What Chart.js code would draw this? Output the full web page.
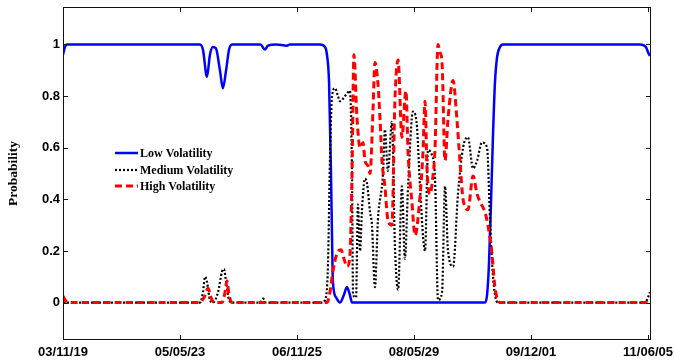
<!DOCTYPE html>
<html>
<head>
<meta charset="utf-8">
<script src="https://cdn.jsdelivr.net/npm/chart.js@4.4.0/dist/chart.umd.min.js"></script>
<style>
  html, body { margin: 0; padding: 0; background: #fff; }
  #wrap { width: 675px; height: 362px; }
</style>
</head>
<body>
<div id="wrap"><canvas id="chart" width="675" height="362"></canvas></div>
<script>
'use strict';

// x values are days counted from 2003/11/19
var xTickDays = [0, 551, 1102, 1653, 2204, 2755];
var xTickLabels = ['03/11/19', '05/05/23', '06/11/25', '08/05/29', '09/12/01', '11/06/05'];
var yTickValues = [0, 0.2, 0.4, 0.6, 0.8, 1];
var yTickLabels = ['0', '0.2', '0.4', '0.6', '0.8', '1'];

var seriesNames = ['Low Volatility', 'Medium Volatility', 'High Volatility'];

var lowDays = [0, 9, 19, 645, 659, 678, 692, 706, 720, 739,
    753, 768, 782, 796, 930, 951, 965, 1003, 1055, 1069,
    1210, 1234, 1243, 1253, 1262, 1267, 1271, 1286, 1304, 1323,
    1337, 1351, 1361, 1987, 1997, 2006, 2016, 2025, 2034, 2044,
    2058, 2072, 2717, 2745, 2755, 2764];
var lowProb = [0.96, 0.99, 1, 1, 0.98, 0.875, 0.96, 0.99, 0.985, 0.9,
    0.83, 0.9, 0.98, 1, 1, 0.98, 0.995, 1, 0.995, 1,
    1, 0.99, 0.96, 0.85, 0.5, 0.25, 0.08, 0.02, 0, 0.03,
    0.06, 0.03, 0, 0, 0.03, 0.15, 0.4, 0.65, 0.85, 0.95,
    0.99, 1, 1, 0.99, 0.97, 0.955];

var medDays = [0, 645, 659, 669, 678, 692, 706, 730, 749, 758,
    768, 782, 796, 928, 942, 956, 1220, 1234, 1248, 1257,
    1267, 1281, 1295, 1304, 1319, 1337, 1351, 1361, 1366, 1380,
    1389, 1399, 1408, 1422, 1432, 1446, 1455, 1469, 1483, 1507,
    1516, 1530, 1549, 1563, 1578, 1596, 1610, 1625, 1648, 1667,
    1681, 1705, 1719, 1738, 1752, 1766, 1785, 1799, 1813, 1837,
    1860, 1884, 1907, 1931, 1950, 1973, 1997, 2011, 2025, 2048,
    2741, 2755, 2764];
var medProb = [0, 0, 0.04, 0.1, 0.08, 0.01, 0, 0.04, 0.12, 0.13,
    0.08, 0.01, 0, 0, 0.015, 0, 0, 0.01, 0.15, 0.55,
    0.8, 0.83, 0.8, 0.78, 0.79, 0.81, 0.82, 0.5, 0.03, 0.02,
    0.38, 0.2, 0.36, 0.48, 0.46, 0.35, 0.3, 0.06, 0.32, 0.5,
    0.67, 0.51, 0.7, 0.22, 0.05, 0.45, 0.17, 0.45, 0.74, 0.68,
    0.45, 0.2, 0.59, 0.57, 0.48, 0.01, 0.04, 0.45, 0.2, 0.14,
    0.42, 0.6, 0.64, 0.52, 0.55, 0.62, 0.6, 0.32, 0.1, 0,
    0, 0.02, 0.04];

var highDays = [0, 14, 24, 645, 664, 683, 697, 711, 749, 763,
    772, 782, 796, 1243, 1257, 1271, 1290, 1309, 1323, 1337,
    1351, 1361, 1370, 1384, 1399, 1413, 1422, 1436, 1446, 1460,
    1469, 1483, 1493, 1502, 1516, 1530, 1549, 1563, 1578, 1596,
    1615, 1625, 1643, 1658, 1681, 1695, 1705, 1714, 1728, 1742,
    1752, 1766, 1775, 1785, 1799, 1813, 1837, 1855, 1870, 1884,
    1907, 1931, 1950, 1964, 1987, 2001, 2020, 2034, 2058, 2764];
var highProb = [0.025, 0.005, 0, 0, 0.02, 0.055, 0.02, 0, 0, 0.04,
    0.085, 0.03, 0, 0, 0.04, 0.12, 0.19, 0.205, 0.17, 0.14,
    0.18, 0.5, 0.96, 0.72, 0.6, 0.62, 0.55, 0.53, 0.5, 0.75,
    0.93, 0.85, 0.71, 0.55, 0.45, 0.32, 0.3, 0.78, 0.94, 0.64,
    0.82, 0.58, 0.39, 0.26, 0.41, 0.58, 0.78, 0.52, 0.42, 0.49,
    0.6, 1.0, 0.97, 0.93, 0.55, 0.71, 0.86, 0.71, 0.54, 0.4,
    0.36, 0.49, 0.42, 0.39, 0.35, 0.3, 0.19, 0.06, 0, 0];

var toPoints = function(xs, ys) {
    var pts = [];
    for (var i = 0; i < xs.length; i++) {
        pts.push({ x: xs[i], y: ys[i] });
    }
    return pts;
};

var tickFont = { family: '"Liberation Sans", Arial, sans-serif', size: 13, weight: 'bold' };

var makeDataset = function(label, pts, color, width, dash, order) {
    return {
        label: label,
        data: pts,
        borderColor: color,
        backgroundColor: color,
        borderWidth: width,
        borderDash: dash,
        pointRadius: 0,
        fill: false,
        cubicInterpolationMode: 'monotone',
        order: order
    };
};

// box, inward ticks on all four sides, y title and the legend
var decorations = {
    id: 'decorations',
    afterDatasetsDraw: function(chart) {
        var ctx = chart.ctx;
        var a = chart.chartArea;
        var xs = chart.scales.x;
        var ys = chart.scales.y;
        ctx.save();
        ctx.strokeStyle = '#111';
        ctx.lineWidth = 1;
        ctx.strokeRect(a.left + 0.5, a.top + 0.5, a.right - a.left - 1, a.bottom - a.top - 1);
        ctx.beginPath();
        xTickDays.forEach(function(d) {
            var px = Math.round(xs.getPixelForValue(d)) + 0.5;
            ctx.moveTo(px, a.bottom); ctx.lineTo(px, a.bottom - 5);
            ctx.moveTo(px, a.top); ctx.lineTo(px, a.top + 5);
        });
        yTickValues.forEach(function(v) {
            var py = Math.round(ys.getPixelForValue(v)) + 0.5;
            ctx.moveTo(a.left, py); ctx.lineTo(a.left + 5, py);
            ctx.moveTo(a.right, py); ctx.lineTo(a.right - 5, py);
        });
        ctx.stroke();

        ctx.fillStyle = '#000';
        ctx.font = 'bold 13.5px "Liberation Serif", "Times New Roman", serif';
        ctx.textAlign = 'center';
        ctx.textBaseline = 'middle';
        ctx.translate(14, (a.top + a.bottom) / 2);
        ctx.rotate(-Math.PI / 2);
        ctx.fillText('Probability', 0, 0);
        ctx.restore();

        ctx.save();
        ctx.font = 'bold 12px "Liberation Serif", "Times New Roman", serif';
        ctx.textAlign = 'left';
        ctx.textBaseline = 'middle';
        var rows = [153, 170, 186];
        chart.data.datasets.forEach(function(ds, i) {
            ctx.beginPath();
            ctx.strokeStyle = ds.borderColor;
            ctx.lineWidth = ds.borderWidth;
            ctx.setLineDash(ds.borderDash);
            ctx.moveTo(115, rows[i]);
            ctx.lineTo(138, rows[i]);
            ctx.stroke();
            ctx.setLineDash([]);
            ctx.fillStyle = '#000';
            ctx.fillText(ds.label, 140, rows[i] + 1);
        });
        ctx.restore();
    }
};

var config = {
    type: 'line',
    data: {
        datasets: [
            makeDataset(seriesNames[0], toPoints(lowDays, lowProb), '#0000ff', 2.5, [], 3),
            makeDataset(seriesNames[1], toPoints(medDays, medProb), '#000000', 2.2, [2, 2], 2),
            makeDataset(seriesNames[2], toPoints(highDays, highProb), '#ff0000', 3, [7, 4], 1)
        ]
    },
    options: {
        responsive: false,
        animation: false,
        layout: { padding: { top: 7, right: 24, left: 0, bottom: 0 } },
        plugins: {
            legend: { display: false },
            tooltip: { enabled: false }
        },
        scales: {
            x: {
                type: 'linear',
                min: 0,
                max: 2769,
                grid: { display: false, drawTicks: false },
                border: { display: false },
                afterBuildTicks: function(scale) {
                    scale.ticks = xTickDays.map(function(d) { return { value: d }; });
                },
                afterFit: function(scale) {
                    scale.height = 22;
                    scale.paddingLeft = 0;
                    scale.paddingRight = 0;
                },
                ticks: {
                    autoSkip: false,
                    maxRotation: 0,
                    padding: 5,
                    color: '#000',
                    font: tickFont,
                    callback: function(value) {
                        var i = xTickDays.indexOf(value);
                        return i >= 0 ? xTickLabels[i] : '';
                    }
                }
            },
            y: {
                min: -0.145,
                max: 1.145,
                grid: { display: false, drawTicks: false },
                border: { display: false },
                afterBuildTicks: function(scale) {
                    scale.ticks = yTickValues.map(function(v) { return { value: v }; });
                },
                afterFit: function(scale) {
                    scale.width = 63;
                    scale.paddingTop = 0;
                    scale.paddingBottom = 0;
                },
                ticks: {
                    padding: 3,
                    color: '#000',
                    font: tickFont,
                    callback: function(value) {
                        var i = yTickValues.indexOf(value);
                        return i >= 0 ? yTickLabels[i] : '';
                    }
                }
            }
        }
    },
    plugins: [decorations]
};

new Chart(document.getElementById('chart'), config);
</script>
</body>
</html>
